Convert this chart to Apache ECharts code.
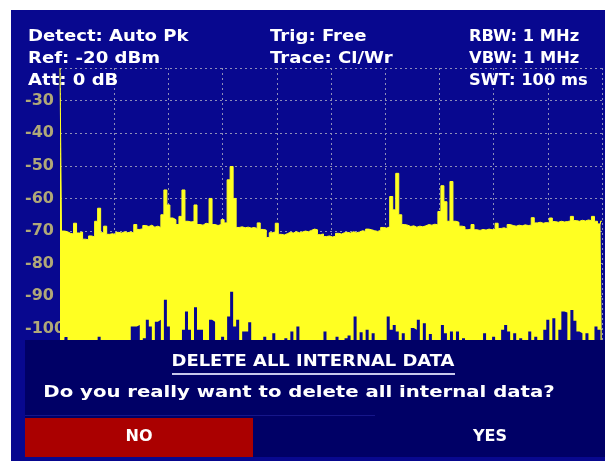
<!DOCTYPE html>
<html lang="en">
<head>
    <meta charset="UTF-8">
    <title>spectrum</title>
    <script src="https://cdn.jsdelivr.net/npm/echarts@6/dist/echarts.min.js"></script>
    <style>
        html, body { margin: 0; padding: 0; background: #fff; }
        #chart { width: 605px; height: 463px; }
    </style>
</head>
<body>
<div id="chart"></div>

<script type="text/javascript">
    // y axis (dBm)
    var refLevel = -20;
    var bottomLevel = -110;
    var levelStep = 10;

    // header lines
    var headerLeft = ['Detect: Auto Pk', 'Ref: -20 dBm', 'Att: 0 dB'];
    var headerMid = ['Trig: Free', 'Trace: Cl/Wr'];
    var headerRight = ['RBW: 1 MHz', 'VBW: 1 MHz', 'SWT: 100 ms'];

    // dialog texts
    var dialogTitle = 'DELETE ALL INTERNAL DATA';
    var dialogQuestion = 'Do you really want to delete all internal data?';
    var buttonLabels = ['NO', 'YES'];

    // trace, 181 points across the span: peak (top of the yellow) and min (bottom notches)
    var peakTrace = [
        -20, -70.0, -70.2, -70.7, -70.9, -67.6, -70.6, -70.3, -72.5, -72.7, -71.5, -71.8, -67, -63, -70.5, -68.5, -71, -70.8, -71.2, -70.4,
        -70.6, -70.2, -70.5, -70.3, -70.6, -68, -69.5, -69.3, -68.3, -68.6, -68.2, -68.8, -68.5, -68.9, -65, -57.4, -62, -66, -66.5, -68,
        -65.5, -57.4, -67, -67.2, -67.1, -62, -68, -68.2, -67.6, -67.8, -60, -68, -68.3, -68, -66.5, -67.5, -54.3, -50.2, -60, -68.9,
        -68.7, -69, -68.8, -69.1, -68.9, -69.2, -67.5, -69.5, -69.7, -72, -70.5, -70.3, -67.6, -71, -71.2, -70.8, -70.4, -70.6, -70.2, -70.5,
        -70.3, -70, -70.2, -69.8, -69.4, -69.6, -71.1, -70.9, -71.7, -71.5, -71.8, -71.6, -70.7, -70.9, -70.5, -70.4, -70.6, -70.2, -70.5, -70.3,
        -69.9, -70.1, -69.4, -69.6, -69.9, -70.1, -69.8, -68.9, -69.1, -68.7, -59.4, -63.5, -52.3, -65, -68, -68.2, -68.6, -68.4, -68.8, -68.5,
        -68.7, -68.4, -68, -68.2, -67.9, -68.1, -64, -56.1, -61, -67, -54.8, -67, -67.3, -68.5, -68.7, -69.6, -69.4, -68, -69.6, -69.8,
        -69.5, -69.7, -69.4, -69.6, -69.5, -67.6, -69.2, -69, -69.3, -68, -68.3, -68.5, -68.2, -68.4, -68.1, -68.3, -68.2, -65.9, -67.5, -67.3,
        -67.6, -67.4, -67.5, -66, -67.1, -67.3, -67, -67.2, -67.1, -66.9, -65.5, -66.8, -67, -66.7, -66.9, -66.6, -66.8, -65.5, -67, -67.8, -67
    ];
    var minTrace = [
        -110, -110, -102.5, -110, -110, -110, -110, -110, -110, -110, -110, -110, -110, -102.4, -110, -110, -110, -110, -110, -110,
        -110, -110, -110, -110, -99.3, -99.3, -98.8, -110, -102.9, -97.2, -99.3, -110, -97.8, -97.2, -110, -91.1, -99.3, -110, -110, -110,
        -110, -100.3, -94.7, -100.3, -110, -93.4, -100.3, -100.3, -110, -110, -97.2, -97.8, -110, -110, -102.4, -110, -96.2, -88.6, -99.3, -97.2,
        -110, -100.8, -100.8, -98, -110, -110, -110, -110, -102.4, -110, -110, -101.3, -110, -110, -110, -102.9, -110, -100.8, -110, -99.3,
        -110, -110, -110, -110, -110, -110, -110, -110, -100.8, -110, -110, -110, -102.4, -110, -110, -102.9, -102, -110, -96.2, -110,
        -101, -110, -100.3, -110, -101.3, -110, -110, -110, -110, -96.2, -100.3, -98.8, -100.8, -110, -101.3, -110, -110, -99.7, -100.3, -97.2,
        -110, -98.3, -110, -101.6, -110, -110, -110, -98.8, -101.3, -110, -100.8, -110, -100.8, -110, -102.9, -110, -110, -110, -110, -110,
        -110, -101.3, -110, -110, -102.4, -110, -110, -100.3, -98.8, -100.8, -110, -101.3, -110, -102.9, -110, -110, -100.8, -110, -102.4, -110,
        -110, -100.3, -97.2, -110, -96.7, -110, -100.3, -94.7, -95, -110, -94.2, -97.5, -100.8, -101.3, -110, -101.3, -110, -110, -99.3, -100.3, -110
    ];

    var screenBlue = '#08088f';
    var dialogBlue = '#000066';
    var traceYellow = '#ffff22';
    var gridDots = '#8e8eb8';
    var font = 'DejaVu Sans, Liberation Sans, sans-serif';

    var bins = peakTrace.map(function (v, i) { return i; });

    // the analyzer font is wider than DejaVu, so texts get stretched a little
    function label(t, x, y, align, sx) {
        return {
            type: 'text', x: x, y: y, z: 110, scaleX: sx || 1,
            style: { text: t, fill: '#ffffff', font: 'bold 16px ' + font, textAlign: align, textVerticalAlign: 'middle' }
        };
    }

    function headerText(lines, x, sx) {
        return lines.map(function (t, i) {
            return label(t, x, 37 + i * 22, 'left', sx);
        });
    }

    var graphics = [
        // white margins round the screen
        { type: 'rect', shape: { x: 0, y: 0, width: 11, height: 463 }, style: { fill: '#ffffff' }, z: 120 },
        { type: 'rect', shape: { x: 0, y: 0, width: 605, height: 10 }, style: { fill: '#ffffff' }, z: 120 },
        { type: 'rect', shape: { x: 0, y: 461, width: 605, height: 2 }, style: { fill: '#ffffff' }, z: 120 },
        // dialog
        { type: 'rect', shape: { x: 25, y: 340, width: 580, height: 78 }, style: { fill: dialogBlue }, z: 100 },
        { type: 'rect', shape: { x: 25, y: 418, width: 580, height: 39 }, style: { fill: dialogBlue }, z: 100 },
        { type: 'rect', shape: { x: 25, y: 418, width: 228, height: 39 }, style: { fill: '#aa0000' }, z: 101 },
        { type: 'line', shape: { x1: 25, y1: 415.5, x2: 375, y2: 415.5 }, style: { stroke: '#16168a', lineWidth: 1 }, z: 101 },
        { type: 'line', shape: { x1: 172, y1: 374, x2: 455, y2: 374 }, style: { stroke: '#c8c8ec', lineWidth: 2 }, z: 101 },
        label(dialogTitle, 313, 362, 'center', 1.12),
        label(dialogQuestion, 299, 393, 'center', 1.23),
        label(buttonLabels[0], 139, 437, 'center'),
        label(buttonLabels[1], 490, 437, 'center')
    ].concat(headerText(headerLeft, 28, 1.13), headerText(headerMid, 270, 1.13), headerText(headerRight, 469, 1.02));

    var myChart = echarts.init(document.getElementById('chart'), null, { renderer: 'canvas' });

    var option = {
        backgroundColor: screenBlue,
        animation: false,
        grid: { left: 60, right: 3, top: 68, bottom: 101.5, containLabel: false },
        xAxis: {
            type: 'category',
            data: bins,
            boundaryGap: false,
            axisLine: { show: false },
            axisTick: { show: false },
            axisLabel: { show: false },
            splitLine: {
                show: true,
                interval: function (idx) { return idx % 18 === 0; },
                lineStyle: { color: gridDots, type: [2, 3], width: 1 }
            }
        },
        yAxis: {
            type: 'value',
            min: bottomLevel,
            max: refLevel,
            interval: levelStep,
            axisLine: { show: false },
            axisTick: { show: false },
            axisLabel: {
                align: 'left',
                margin: 35,
                color: '#b0a878',
                fontFamily: font,
                fontWeight: 'bold',
                fontSize: 16,
                formatter: function (v) {
                    return (v === refLevel || v === bottomLevel) ? '' : String(v);
                }
            },
            splitLine: { lineStyle: { color: gridDots, type: [2, 3], width: 1 } }
        },
        series: [
            {
                name: 'peak',
                type: 'line',
                data: peakTrace,
                step: 'middle',
                symbol: 'none',
                z: 2,
                lineStyle: { color: traceYellow, width: 1 },
                areaStyle: { color: traceYellow, opacity: 1, origin: 'start' }
            },
            {
                name: 'min',
                type: 'line',
                data: minTrace,
                step: 'middle',
                symbol: 'none',
                z: 3,
                lineStyle: { color: screenBlue, width: 0 },
                areaStyle: { color: screenBlue, opacity: 1, origin: 'start' }
            }
        ],
        graphic: graphics
    };

    myChart.setOption(option);
</script>
</body>
</html>
